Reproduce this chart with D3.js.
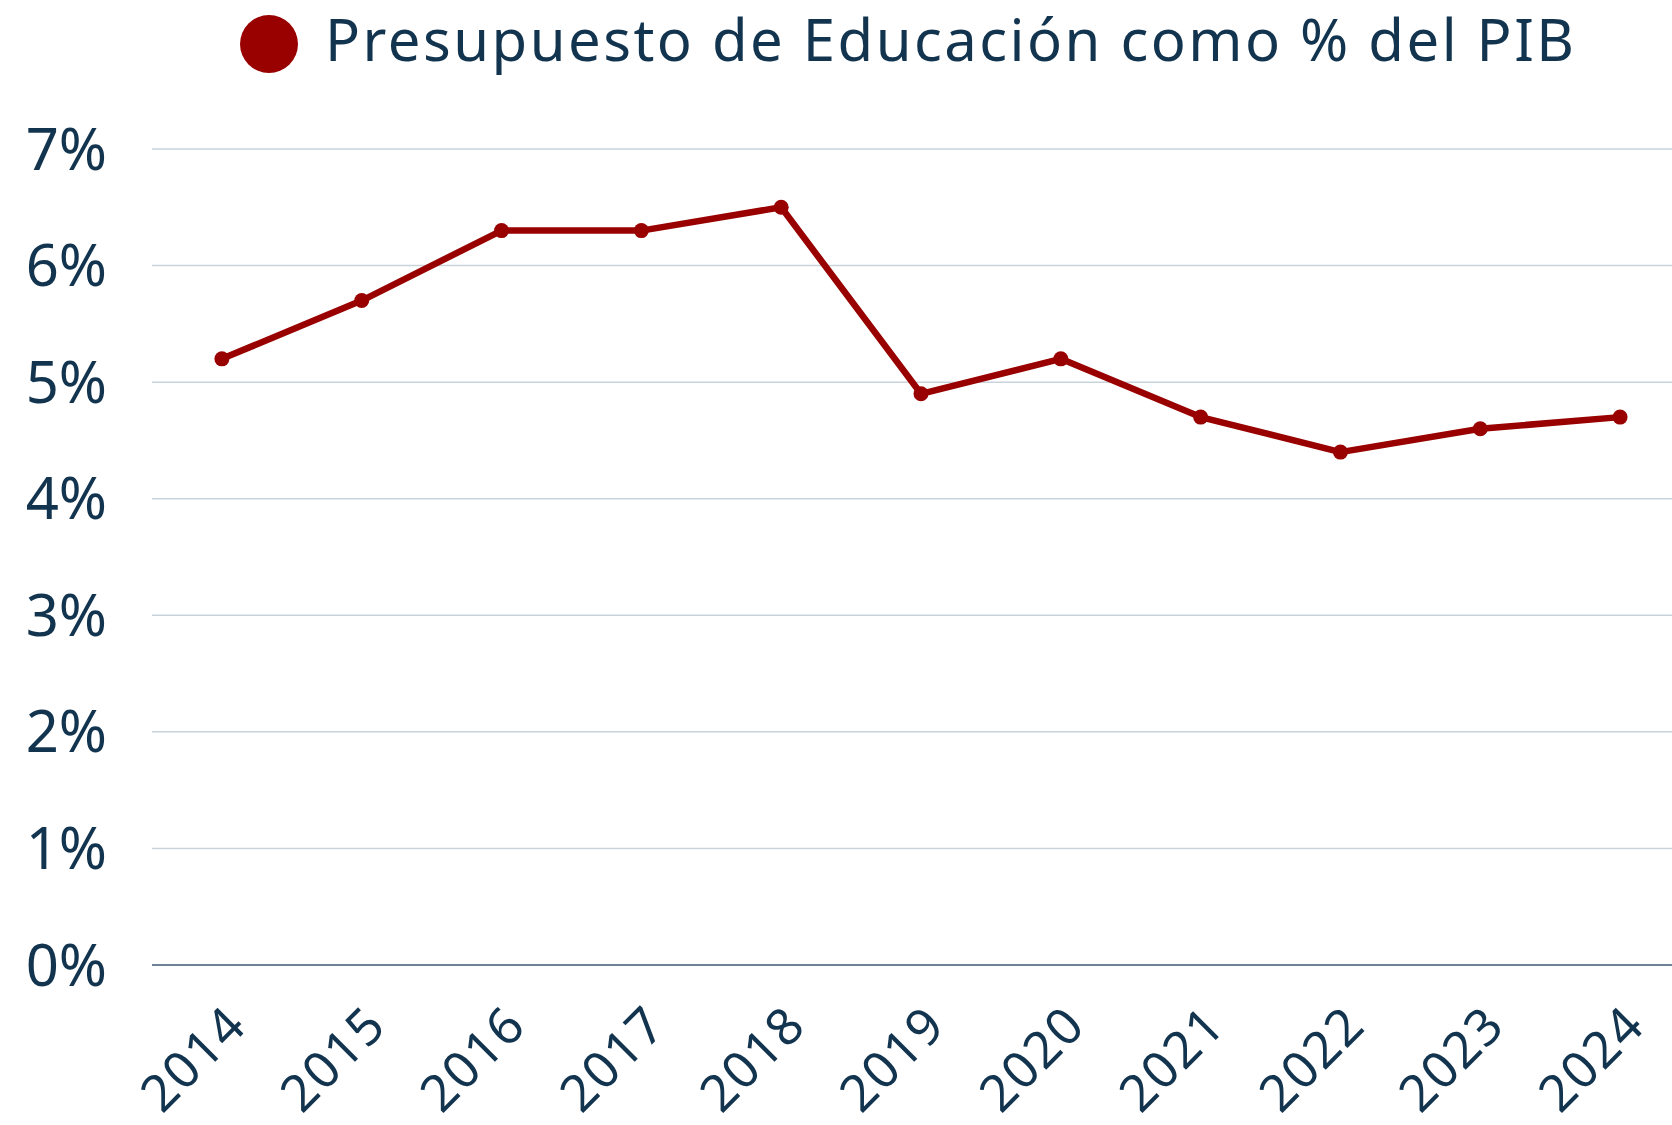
<!DOCTYPE html>
<html>
<head>
<meta charset="utf-8">
<script src="https://cdn.jsdelivr.net/npm/d3@7"></script>
<style>
  html, body { margin: 0; padding: 0; background: #fff; overflow: hidden; }
  svg { display: block; font-family: "Noto Sans", "Open Sans", sans-serif; }
</style>
</head>
<body>
<script>
// Data
const years = ["2014", "2015", "2016", "2017", "2018", "2019", "2020", "2021", "2022", "2023", "2024"];
const budgetPct = [5.2, 5.7, 6.3, 6.3, 6.5, 4.9, 5.2, 4.7, 4.4, 4.6, 4.7];
const yTicks = [0, 1, 2, 3, 4, 5, 6, 7];
const seriesName = "Presupuesto de Educación como % del PIB";

const width = 1672, height = 1125;
const textColor = "#12344f";
const lineColor = "#990000";

const svg = d3.select("body").append("svg")
    .attr("width", width)
    .attr("height", height);

// scales - the plot runs a bit past the right edge of the window
const x = d3.scalePoint()
    .domain(years)
    .range([152, 1690])
    .padding(0.5);

const y = d3.scaleLinear()
    .domain([0, 7])
    .range([965, 149]);

// gridlines
svg.append("g")
    .selectAll("line")
    .data(yTicks.filter(d => d > 0))
    .join("line")
    .attr("x1", 152)
    .attr("x2", width)
    .attr("y1", d => y(d))
    .attr("y2", d => y(d))
    .attr("stroke", "#c9d3dc")
    .attr("stroke-width", 1.5);

// baseline
svg.append("line")
    .attr("x1", 152)
    .attr("x2", width)
    .attr("y1", y(0))
    .attr("y2", y(0))
    .attr("stroke", "#6f8394")
    .attr("stroke-width", 2);

// y axis labels
svg.append("g")
    .selectAll("text")
    .data(yTicks)
    .join("text")
    .attr("x", 107)
    .attr("y", d => y(d) + 20.5)
    .attr("text-anchor", "end")
    .attr("font-size", 58)
    .attr("fill", textColor)
    .text(d => d + "%");

// x axis labels, rotated
svg.append("g")
    .selectAll("text")
    .data(years)
    .join("text")
    .attr("transform", d => `translate(${x(d) + 27},${1028}) rotate(-45)`)
    .attr("text-anchor", "end")
    .attr("font-size", 51)
    .attr("letter-spacing", 1.5)
    .attr("fill", textColor)
    .text(d => d);

// line
const line = d3.line()
    .x((d, i) => x(years[i]))
    .y(d => y(d));

svg.append("path")
    .datum(budgetPct)
    .attr("d", line)
    .attr("fill", "none")
    .attr("stroke", lineColor)
    .attr("stroke-width", 6.5)
    .attr("stroke-linejoin", "round");

svg.append("g")
    .selectAll("circle")
    .data(budgetPct)
    .join("circle")
    .attr("cx", (d, i) => x(years[i]))
    .attr("cy", d => y(d))
    .attr("r", 7.5)
    .attr("fill", lineColor);

// legend
const legend = svg.append("g");
legend.append("circle")
    .attr("cx", 269)
    .attr("cy", 44)
    .attr("r", 29)
    .attr("fill", lineColor);
legend.append("text")
    .attr("x", 325)
    .attr("y", 61)
    .attr("font-size", 58)
    .attr("textLength", 1249)
    .attr("lengthAdjust", "spacing")
    .attr("fill", textColor)
    .text(seriesName);
</script>
</body>
</html>
